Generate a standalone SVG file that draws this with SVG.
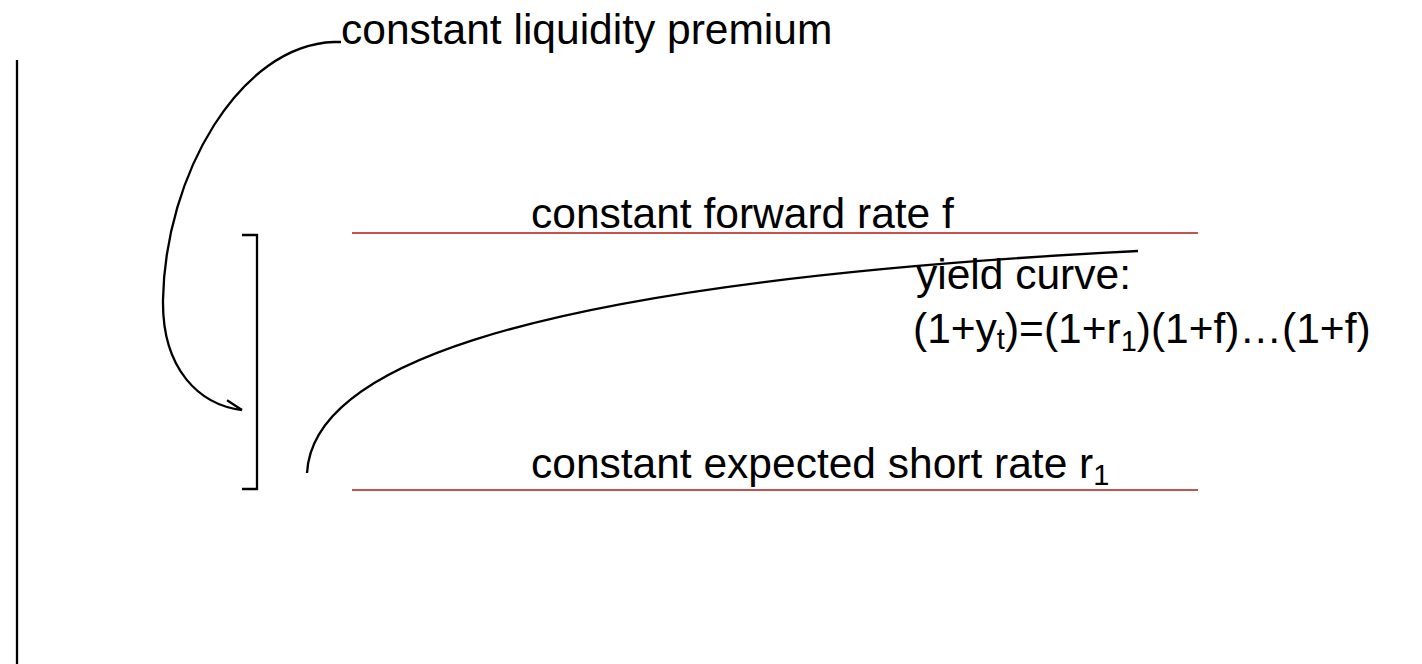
<svg xmlns="http://www.w3.org/2000/svg" width="1422" height="664" viewBox="0 0 1422 664">
<style>
  .t { font-family: "Liberation Sans", Arial, Helvetica, sans-serif; font-size: 42.5px; fill: #000; }
  .sub { font-size: 29px; }
  .blk { fill: none; stroke: #000; stroke-width: 2.3; }
  .red { fill: none; stroke: #c4524e; stroke-width: 2.2; }
</style>
<defs>
  <marker id="arr" viewBox="0 0 20 20" refX="18" refY="10" markerWidth="20" markerHeight="20" markerUnits="userSpaceOnUse" orient="auto">
    <path d="M2,2 L18,10" fill="none" stroke="#000" stroke-width="2.3"/>
  </marker>
</defs>
<rect width="1422" height="664" fill="#fff"/>
<g id="axis">
  <line class="blk" x1="17" y1="60" x2="17" y2="664"/>
</g>
<g id="bracket">
  <path class="blk" d="M242,235 H257 V489 H242"/>
</g>
<g id="forward-rate">
  <line class="red" x1="352" y1="233" x2="1198" y2="233"/>
  <text class="t" x="531" y="228">constant forward rate f</text>
</g>
<g id="short-rate">
  <line class="red" x1="352" y1="490" x2="1198" y2="490"/>
  <text class="t" x="531" y="478">constant expected short rate r<tspan class="sub" dy="7">1</tspan></text>
</g>
<g id="liquidity-premium">
  <text class="t" x="341" y="44">constant liquidity premium</text>
</g>
<g id="yield-curve-label">
  <text class="t" x="916" y="289">yield curve:</text>
  <text class="t" x="913" y="343">(1+y<tspan class="sub" dy="6">t</tspan><tspan dy="-6">)=(1+r</tspan><tspan class="sub" dy="8">1</tspan><tspan dy="-8">)(1+f)…(1+f)</tspan></text>
</g>
<g id="connectors">
  <path class="blk" d="M341,42 L334,42 C240,45 165,175 163,300 C162,370 200,405 242,410" marker-end="url(#arr)"/>
  <path class="blk" d="M307,473 C312,380 470,285 1138,251"/>
</g>
</svg>
